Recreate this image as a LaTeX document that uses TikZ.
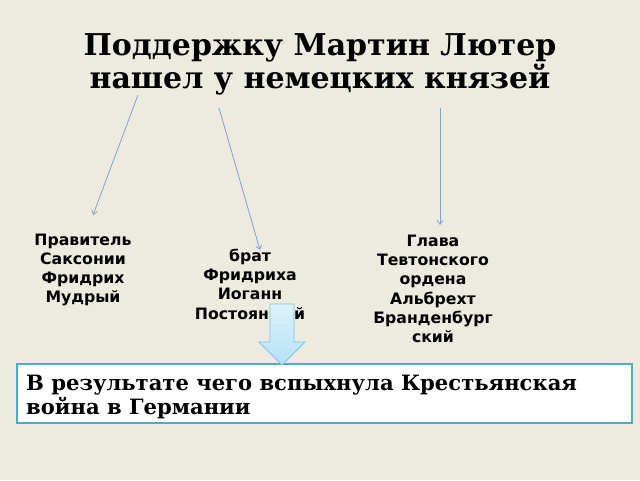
\documentclass[tikz,border=0pt]{standalone}
\usepackage{fontspec}
\setmainfont{DejaVu Serif}
\setsansfont{DejaVu Sans}
\usetikzlibrary{arrows.meta}
\definecolor{bgcol}{HTML}{EDEBE0}
\definecolor{linecol}{HTML}{7FA2CF}
\definecolor{boxcol}{HTML}{4BACC6}
\definecolor{arrowfill}{HTML}{B4E2F6}
\definecolor{arrowdraw}{HTML}{7CC6E6}

\begin{document}
\begin{tikzpicture}[x=1pt, y=-1pt,
    person/.style={align=center, font=\sffamily\bfseries\fontsize{15.7}{19.3}\selectfont, inner sep=0pt},
    link/.style={draw=linecol, line width=0.8pt, -{Straight Barb[length=4pt,width=6pt]}}]
            \fill[bgcol] (0,0) rectangle (640,480);

            \node[font=\bfseries\fontsize{30}{33}\selectfont, align=center] (title) at (320,64)
                {Поддержку Мартин Лютер\\нашел у немецких князей};

            \node[person] (ruler) at (83,270) {Правитель\\Саксонии\\Фридрих\\Мудрый};
            \node[person] (brother) at (250,284) {брат\\Фридриха\\Иоганн\\Постоянный};
            \node[person] (master) at (433,289) {Глава\\Тевтонского\\ордена\\Альбрехт\\Бранденбург\\ский};

            \coordinate (a1) at (138,95);
            \coordinate (a2) at (219,108);
            \coordinate (a3) at (440,108);
            \coordinate (b1) at (93,215);
            \coordinate (b2) at (260,250);
            \coordinate (b3) at (440,225);
            \draw[link] (a1) -- (b1);
            \draw[link] (a2) -- (b2);
            \draw[link] (a3) -- (b3);

            \node[draw=boxcol, line width=1.5pt, fill=white, minimum width=615pt, minimum height=59pt,
                  inner sep=0pt] (result) at (324.5,393.5) {};
            \node[anchor=north west, align=left, font=\bfseries\fontsize{21.1}{24}\selectfont, inner sep=0pt]
                (resulttext) at (26,374.5) {В результате чего вспыхнула Крестьянская\\война в Германии};

            % block arrow down to the box
            \draw[draw=arrowdraw, line width=0.9pt, top color=arrowfill!45!white, bottom color=arrowfill]
                (270,304) -- (294,304) -- (294,342) -- (305,342) -- (282,365) -- (259,342) -- (270,342) -- cycle;
\end{tikzpicture}
\end{document}
